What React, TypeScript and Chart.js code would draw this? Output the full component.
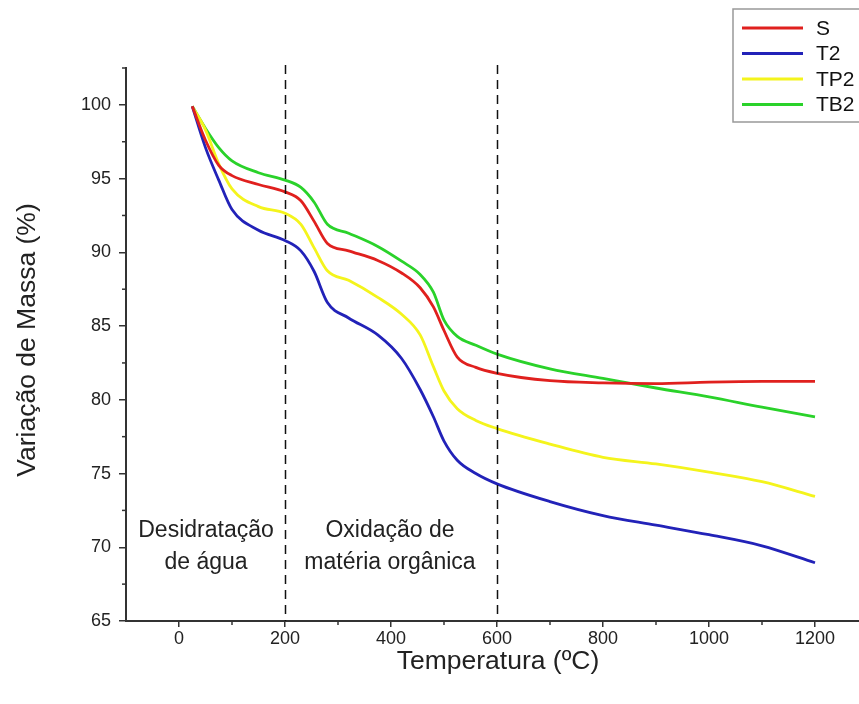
import React, { useEffect, useRef } from "react";
import { Chart, registerables } from "chart.js";

Chart.register(...registerables);

// Temperature (ºC) sample points shared by all series
const temperatures = [25, 50, 75, 100, 150, 200, 230, 255, 280, 320, 375, 420, 455, 480, 500, 525, 560, 600, 700, 800, 900, 1000, 1100, 1200];

const massS = [99.9, 97.6, 95.9, 95.2, 94.6, 94.1, 93.5, 92.1, 90.6, 90.1, 89.45, 88.6, 87.6, 86.3, 84.7, 82.9, 82.2, 81.8, 81.3, 81.15, 81.1, 81.2, 81.25, 81.25];
const massT2 = [99.9, 97.1, 94.9, 92.9, 91.5, 90.8, 90.1, 88.7, 86.6, 85.55, 84.4, 82.8, 80.7, 78.85, 77.2, 75.9, 75.0, 74.3, 73.1, 72.15, 71.5, 70.85, 70.1, 68.95];
const massTP2 = [99.9, 98.3, 96.0, 94.3, 93.1, 92.65, 91.9, 90.3, 88.75, 88.1, 86.95, 85.8, 84.4, 82.25, 80.6, 79.4, 78.6, 78.05, 77.0, 76.1, 75.65, 75.1, 74.45, 73.45];
const massTB2 = [99.9, 98.4, 97.1, 96.2, 95.4, 94.9, 94.4, 93.4, 91.9, 91.3, 90.4, 89.4, 88.5, 87.3, 85.4, 84.3, 83.7, 83.1, 82.1, 81.45, 80.8, 80.2, 79.5, 78.85];

const seriesLabels = ["S", "T2", "TP2", "TB2"];
const seriesColors = ["#e0201e", "#2222b8", "#f4f41c", "#2ad22a"];

const xTicks = [0, 200, 400, 600, 800, 1000, 1200];
const xMinorTicks = [100, 300, 500, 700, 900, 1100, 1300];
const yTicks = [65, 70, 75, 80, 85, 90, 95, 100];
const yMinorTicks = [67.5, 72.5, 77.5, 82.5, 87.5, 92.5, 97.5, 102.5];
const dividerTemps = [200, 600];

const xTitle = "Temperatura (ºC)";
const yTitle = "Variação de Massa (%)";
const regionLabels = [
  { x: 206, lines: ["Desidratação", "de água"] },
  { x: 390, lines: ["Oxidação de", "matéria orgânica"] },
];

const FONT = "'Liberation Sans', Arial, sans-serif";

const overlayPlugin = {
  id: "overlay",
  afterDatasetsDraw(chart: any) {
    const ctx = chart.ctx;
    const xs = chart.scales.x;
    const ys = chart.scales.y;
    const area = chart.chartArea;
    ctx.save();
    // dashed dividers
    ctx.strokeStyle = "#111";
    ctx.lineWidth = 1.5;
    ctx.setLineDash([9, 6]);
    dividerTemps.forEach((t) => {
      const px = Math.round(xs.getPixelForValue(t)) + 0.5;
      ctx.beginPath();
      ctx.moveTo(px, area.top - 3);
      ctx.lineTo(px, area.bottom);
      ctx.stroke();
    });
    ctx.setLineDash([]);
    // minor ticks
    ctx.strokeStyle = "#333";
    ctx.lineWidth = 1.5;
    xMinorTicks.forEach((t) => {
      const px = xs.getPixelForValue(t);
      ctx.beginPath();
      ctx.moveTo(px, area.bottom);
      ctx.lineTo(px, area.bottom + 4);
      ctx.stroke();
    });
    yMinorTicks.forEach((v) => {
      const py = ys.getPixelForValue(v);
      ctx.beginPath();
      ctx.moveTo(area.left, py);
      ctx.lineTo(area.left - 4, py);
      ctx.stroke();
    });
    // region labels
    ctx.fillStyle = "#222";
    ctx.font = `23px ${FONT}`;
    ctx.textAlign = "center";
    ctx.textBaseline = "middle";
    regionLabels.forEach((r) => {
      r.lines.forEach((line, i) => {
        ctx.fillText(line, r.x, 531 + i * 32);
      });
    });
    // axis titles
    ctx.font = `26.5px ${FONT}`;
    ctx.fillText(xTitle, 498, 662);
    ctx.save();
    ctx.translate(28, 340);
    ctx.rotate(-Math.PI / 2);
    ctx.fillText(yTitle, 0, 0);
    ctx.restore();
    // legend
    ctx.fillStyle = "#fff";
    ctx.fillRect(733, 9, 200, 113);
    ctx.strokeStyle = "#999";
    ctx.lineWidth = 1.5;
    ctx.strokeRect(733, 9, 200, 113);
    ctx.font = `21px ${FONT}`;
    ctx.textAlign = "left";
    seriesLabels.forEach((lab, i) => {
      const y = 28 + i * 25.5;
      ctx.strokeStyle = seriesColors[i];
      ctx.lineWidth = 3;
      ctx.beginPath();
      ctx.moveTo(742, y);
      ctx.lineTo(803, y);
      ctx.stroke();
      ctx.fillStyle = "#111";
      ctx.fillText(lab, 816, y + 1);
    });
    ctx.restore();
  },
};

export default function App() {
  const ref = useRef<HTMLCanvasElement | null>(null);
  useEffect(() => {
    if (!ref.current) return;
    const seriesValues = [massS, massT2, massTP2, massTB2];
    const chart = new Chart(ref.current, {
      type: "line",
      data: {
        datasets: seriesValues.map((vals, i) => ({
          label: seriesLabels[i],
          data: temperatures.map((t, j) => ({ x: t, y: vals[j] })),
          borderColor: seriesColors[i],
          backgroundColor: seriesColors[i],
          borderWidth: 2.8,
          pointRadius: 0,
          fill: false,
          cubicInterpolationMode: "monotone",
        })),
      },
      options: {
        responsive: false,
        animation: false,
        layout: { padding: { top: 68, right: 32, left: 0, bottom: 0 } },
        plugins: { legend: { display: false }, tooltip: { enabled: false } },
        scales: {
          x: {
            type: "linear",
            min: -100,
            max: 1300,
            afterFit: (s: any) => {
              s.height = 83;
            },
            afterBuildTicks: (s: any) => {
              s.ticks = xTicks.map((v) => ({ value: v }));
            },
            ticks: {
              font: { size: 18, family: FONT },
              color: "#222",
              padding: 1,
              maxRotation: 0,
              autoSkip: false,
              callback: (v: any) => String(v),
            },
            grid: { drawOnChartArea: false, color: "#333", lineWidth: 1.5, tickLength: 6 },
            border: { color: "#333", width: 2 },
          },
          y: {
            type: "linear",
            min: 65,
            max: 102.5,
            afterFit: (s: any) => {
              s.width = 126;
            },
            afterBuildTicks: (s: any) => {
              s.ticks = yTicks.map((v) => ({ value: v }));
            },
            ticks: {
              font: { size: 18, family: FONT },
              color: "#222",
              padding: 8,
              autoSkip: false,
              callback: (v: any) => String(v),
            },
            grid: { drawOnChartArea: false, color: "#333", lineWidth: 1.5, tickLength: 7 },
            border: { color: "#333", width: 2 },
          },
        },
      },
      plugins: [overlayPlugin],
    });
    return () => chart.destroy();
  }, []);
  return (
    <div style={{ position: "fixed", left: 0, top: 0, width: 859, height: 704, overflow: "hidden", background: "#fff" }}>
      <canvas ref={ref} width={900} height={704} style={{ display: "block", width: 900, height: 704 }} />
    </div>
  );
}
